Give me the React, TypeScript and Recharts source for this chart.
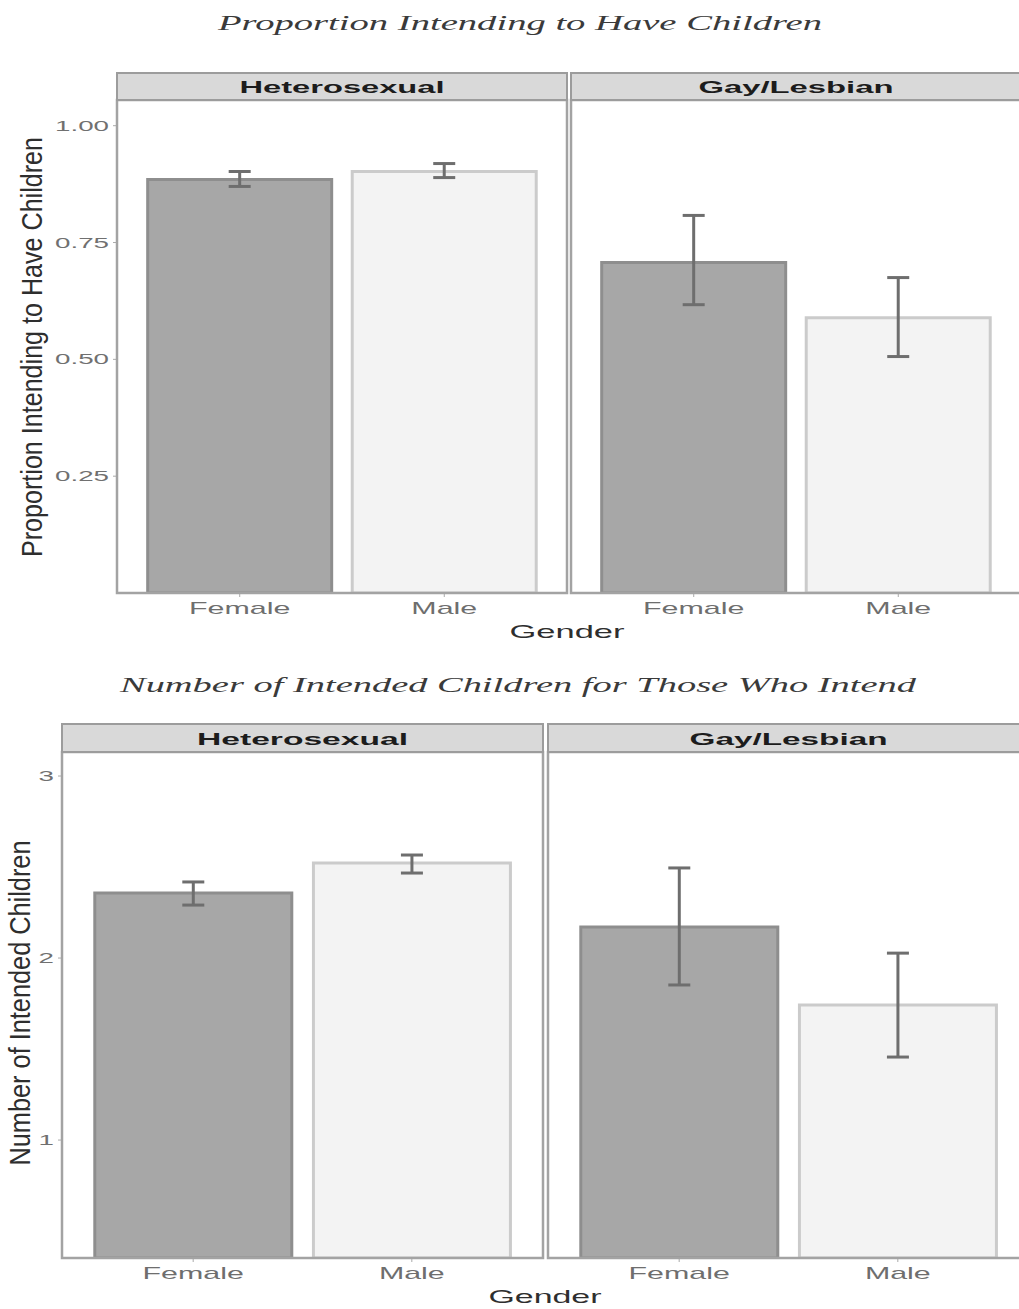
import React from 'react';
import { BarChart, Bar, XAxis, YAxis, ErrorBar, Cell } from 'recharts';

// ---------- data ----------
const genders = ['Female', 'Male'];
const facets = ['Heterosexual', 'Gay/Lesbian'];

const propHetero = [0.885, 0.902];
const propHeteroLow = [0.87, 0.889];
const propHeteroHigh = [0.902, 0.919];
const propGay = [0.707, 0.589];
const propGayLow = [0.617, 0.506];
const propGayHigh = [0.808, 0.675];
const propTicks = [0.25, 0.5, 0.75, 1.0];
const propDomain = [0, 1.055];

const numHetero = [2.357, 2.522];
const numHeteroLow = [2.291, 2.467];
const numHeteroHigh = [2.418, 2.566];
const numGay = [2.17, 1.742];
const numGayLow = [1.852, 1.456];
const numGayHigh = [2.495, 2.027];
const numTicks = [1, 2, 3];
const numDomain = [0.352, 3.132];

const titleTop = 'Proportion Intending to Have Children';
const titleBottom = 'Number of Intended Children for Those Who Intend';
const yLabelTop = 'Proportion Intending to Have Children';
const yLabelBottom = 'Number of Intended Children';
const xLabel = 'Gender';

// ---------- styling ----------
const SANS = '"Liberation Sans", Arial, "DejaVu Sans", sans-serif';
const SERIF = '"Liberation Serif", "Times New Roman", serif';
const FILLS = ['#a7a7a7', '#f3f3f3'];
const STROKES = ['#8e8e8e', '#cbcbcb'];
const SX = 1.9;

const makeRows = (v: number[], lo: number[], hi: number[]) =>
  genders.map((g, i) => ({ gender: g, value: v[i], err: [v[i] - lo[i], hi[i] - v[i]] }));

type PanelProps = {
  left: number;
  top: number;
  plotW: number;
  plotH: number;
  data: any[];
  domain: number[];
  ticks: number[];
  fmt: (v: number) => string;
  showY: boolean;
  yAxisW: number;
};

function Panel({ left, top, plotW, plotH, data, domain, ticks, fmt, showY, yAxisW }: PanelProps) {
  const xAxisH = 40;
  const yw = showY ? yAxisW : 0;
  const width = yw + plotW;
  const height = plotH + xAxisH;
  const pad = (0.1 * plotW) / 2.2;

  const XTick = (props: any) => {
    const { x, payload } = props;
    return (
      <text
        transform={`translate(${x},${plotH + 15}) scale(${SX},1)`}
        textAnchor="middle"
        dominantBaseline="central"
        fontFamily={SANS}
        fontSize={16}
        fill="#6e6e6e"
      >
        {payload.value}
      </text>
    );
  };

  const YTick = (props: any) => {
    const { y, payload } = props;
    return (
      <text
        transform={`translate(${yw - 8},${y}) scale(1.85,1)`}
        textAnchor="end"
        dominantBaseline="central"
        fontFamily={SANS}
        fontSize={15}
        fill="#707070"
      >
        {fmt(payload.value)}
      </text>
    );
  };

  return (
    <div style={{ position: 'absolute', left: left - yw, top, width, height }}>
      <BarChart
        width={width}
        height={height}
        data={data}
        margin={{ top: 0, right: 0, bottom: 0, left: 0 }}
        barCategoryGap="5%"
      >
        <XAxis
          dataKey="gender"
          padding={{ left: pad, right: pad }}
          axisLine={false}
          tickLine={{ stroke: '#aaaaaa' }}
          tickSize={4}
          height={xAxisH}
          tick={<XTick />}
          interval={0}
        />
        <YAxis
          type="number"
          domain={domain}
          allowDataOverflow
          ticks={ticks}
          hide={!showY}
          width={yw}
          axisLine={false}
          tickLine={{ stroke: '#aaaaaa' }}
          tickSize={4}
          tick={<YTick />}
        />
        <Bar dataKey="value" isAnimationActive={false} strokeWidth={3}>
          {data.map((d, i) => (
            <Cell key={d.gender} fill={FILLS[i]} stroke={STROKES[i]} />
          ))}
          <ErrorBar dataKey="err" width={11} strokeWidth={3} stroke="#6e6e6e" isAnimationActive={false} />
        </Bar>
      </BarChart>
    </div>
  );
}

type Box = { x: number; y: number; w: number; h: number };

function Strip({ box, label, len }: { box: Box; label: string; len: number }) {
  return (
    <g>
      <rect x={box.x} y={box.y} width={box.w} height={box.h} fill="#d9d9d9" stroke="#9c9c9c" strokeWidth={2} />
      <text
        x={box.x + box.w / 2}
        y={box.y + box.h / 2 + 1}
        textAnchor="middle"
        dominantBaseline="central"
        fontFamily={SANS}
        fontWeight="bold"
        fontSize={16}
        fill="#1c1c1c"
        textLength={len}
        lengthAdjust="spacingAndGlyphs"
      >
        {label}
      </text>
    </g>
  );
}

export default function App() {
  const topRows = [makeRows(propHetero, propHeteroLow, propHeteroHigh), makeRows(propGay, propGayLow, propGayHigh)];
  const botRows = [makeRows(numHetero, numHeteroLow, numHeteroHigh), makeRows(numGay, numGayLow, numGayHigh)];

  const topPanels: Box[] = [
    { x: 117, y: 100, w: 450, h: 493 },
    { x: 571, y: 100, w: 450, h: 493 },
  ];
  const botPanels: Box[] = [
    { x: 62, y: 752, w: 481, h: 506 },
    { x: 548, y: 752, w: 481, h: 506 },
  ];
  const topStripLen = [205, 195];
  const botStripLen = [211, 198];

  const fmt2 = (v: number) => v.toFixed(2);
  const fmt0 = (v: number) => String(v);

  return (
    <div
      style={{
        position: 'absolute',
        left: 0,
        top: 0,
        width: 1019,
        height: 1309,
        overflow: 'hidden',
        background: '#ffffff',
      }}
    >
      {topPanels.map((p, i) => (
        <Panel
          key={'t' + i}
          left={p.x}
          top={p.y}
          plotW={p.w}
          plotH={p.h}
          data={topRows[i]}
          domain={propDomain}
          ticks={propTicks}
          fmt={fmt2}
          showY={i === 0}
          yAxisW={117}
        />
      ))}
      {botPanels.map((p, i) => (
        <Panel
          key={'b' + i}
          left={p.x}
          top={p.y}
          plotW={p.w}
          plotH={p.h}
          data={botRows[i]}
          domain={numDomain}
          ticks={numTicks}
          fmt={fmt0}
          showY={i === 0}
          yAxisW={62}
        />
      ))}

      <svg
        width={1019}
        height={1309}
        style={{ position: 'absolute', left: 0, top: 0, pointerEvents: 'none' }}
      >
        {/* titles */}
        <text
          x={520}
          y={22}
          textAnchor="middle"
          dominantBaseline="central"
          fontFamily={SERIF}
          fontStyle="italic"
          fontSize={22}
          fill="#3a3a3a"
          textLength={604}
          lengthAdjust="spacingAndGlyphs"
        >
          {titleTop}
        </text>
        <text
          x={518}
          y={684}
          textAnchor="middle"
          dominantBaseline="central"
          fontFamily={SERIF}
          fontStyle="italic"
          fontSize={22}
          fill="#3a3a3a"
          textLength={796}
          lengthAdjust="spacingAndGlyphs"
        >
          {titleBottom}
        </text>

        {/* panel borders */}
        {[...topPanels, ...botPanels].map((p, i) => (
          <rect key={'pb' + i} x={p.x} y={p.y} width={p.w} height={p.h} fill="none" stroke="#a3a3a3" strokeWidth={2.5} />
        ))}

        {/* strips */}
        {topPanels.map((p, i) => (
          <Strip key={'ts' + i} box={{ x: p.x, y: 73, w: p.w, h: 27 }} label={facets[i]} len={topStripLen[i]} />
        ))}
        {botPanels.map((p, i) => (
          <Strip key={'bs' + i} box={{ x: p.x, y: 724, w: p.w, h: 28 }} label={facets[i]} len={botStripLen[i]} />
        ))}

        {/* x axis titles */}
        <text
          x={567}
          y={631}
          textAnchor="middle"
          dominantBaseline="central"
          fontFamily={SANS}
          fontSize={19}
          fill="#2e2e2e"
          textLength={115}
          lengthAdjust="spacingAndGlyphs"
        >
          {xLabel}
        </text>
        <text
          x={545}
          y={1296}
          textAnchor="middle"
          dominantBaseline="central"
          fontFamily={SANS}
          fontSize={19}
          fill="#2e2e2e"
          textLength={113}
          lengthAdjust="spacingAndGlyphs"
        >
          {xLabel}
        </text>

        {/* y axis titles */}
        <text
          transform="translate(32,347) scale(1.7,1) rotate(-90)"
          textAnchor="middle"
          dominantBaseline="central"
          fontFamily={SANS}
          fontSize={17}
          fill="#2e2e2e"
          textLength={420}
          lengthAdjust="spacingAndGlyphs"
        >
          {yLabelTop}
        </text>
        <text
          transform="translate(20,1003) scale(1.7,1) rotate(-90)"
          textAnchor="middle"
          dominantBaseline="central"
          fontFamily={SANS}
          fontSize={17}
          fill="#2e2e2e"
          textLength={325}
          lengthAdjust="spacingAndGlyphs"
        >
          {yLabelBottom}
        </text>
      </svg>
    </div>
  );
}
